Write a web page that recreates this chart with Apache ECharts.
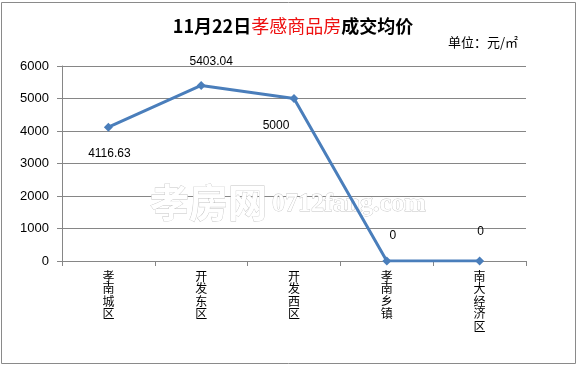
<!DOCTYPE html>
<html><head><meta charset="utf-8">
<script src="https://cdn.jsdelivr.net/npm/echarts@6/dist/echarts.min.js"></script>
<style>html,body{margin:0;padding:0;background:#fff}#c{width:578px;height:366px}</style>
</head><body><div id="c"></div>
<script>
var categories = ['孝南城区', '开发东区', '开发西区', '孝南乡镇', '南大经济区'];
var values = [4116.63, 5403.04, 5000, 0, 0];
var yTicks = {min: 0, max: 6000, interval: 1000};
var labelOffsets = [[1, 42], [10, -8], [-18, 43], [6, -10], [1, -14]];

var chart = echarts.init(document.getElementById('c'));
var data = values.map(function (v, i) {
  return {value: v, label: {offset: labelOffsets[i]}};
});
chart.setOption({
  animation: false,
  backgroundColor: '#fff',
  title: {
    text: '{b|11月22日}{r|孝感商品房}{b|成交均价}',
    left: 288, top: 12, textAlign: 'center',
    textStyle: {
      rich: {
        b: {fontSize: 18, fontWeight: 'bold', color: '#000', fontFamily: 'Noto Sans CJK SC'},
        r: {fontSize: 18, fontWeight: 'normal', color: '#ee1111', fontFamily: 'Noto Sans CJK SC'}
      }
    }
  },
  graphic: [
    {type: 'rect', shape: {x: 1.5, y: 2.5, width: 574, height: 361}, style: {fill: 'none', stroke: '#8a8a8a', lineWidth: 1}, z: 0},
    {type: 'text', left: 448, top: 36, style: {text: '单位：元/㎡', fontSize: 13, fill: '#000', fontFamily: 'Noto Sans CJK SC'}},
    {type: 'text', x: 150, y: 202, z: 1, style: {text: '孝房网', fontSize: 39, fontFamily: 'Noto Sans CJK SC', fontWeight: 'bold', fill: '#fff', stroke: '#c4c4c4', lineWidth: 0.8, verticalAlign: 'middle'}},
    {type: 'text', x: 272, y: 204, z: 1, style: {text: '0712fang.com', fontSize: 26, fontFamily: 'Liberation Serif', fontWeight: 'bold', fill: '#fff', stroke: '#c4c4c4', lineWidth: 0.8, verticalAlign: 'middle'}}
  ],
  grid: {left: 62, right: 52, top: 66, bottom: 105, containLabel: false},
  xAxis: {
    type: 'category', data: categories, boundaryGap: true,
    axisLine: {lineStyle: {color: '#868686', width: 1}},
    axisTick: {show: true, length: 5, lineStyle: {color: '#868686'}},
    axisLabel: {
      interval: 0, margin: 9, color: '#000', fontSize: 12, lineHeight: 12.5,
      fontFamily: 'Noto Sans CJK SC', verticalAlign: 'top',
      formatter: function (v) { return v.split('').join('\n'); }
    }
  },
  yAxis: {
    type: 'value', min: yTicks.min, max: yTicks.max, interval: yTicks.interval,
    axisLine: {show: true, lineStyle: {color: '#868686', width: 1}},
    axisTick: {show: true, length: 5, lineStyle: {color: '#868686'}},
    splitLine: {lineStyle: {color: '#868686', width: 1}},
    axisLabel: {margin: 13, color: '#000', fontSize: 13, fontFamily: 'Liberation Sans',
      formatter: function (v) { return String(v); }}
  },
  series: [{
    type: 'line', data: data, z: 3,
    symbol: 'diamond', symbolSize: 9,
    lineStyle: {color: '#4a7ebb', width: 3},
    itemStyle: {color: '#4a7ebb'},
    label: {
      show: true, position: 'top', distance: 5, color: '#000', fontSize: 12,
      fontFamily: 'Liberation Sans',
      formatter: function (p) { return String(p.value); }
    }
  }]
});
</script></body></html>
